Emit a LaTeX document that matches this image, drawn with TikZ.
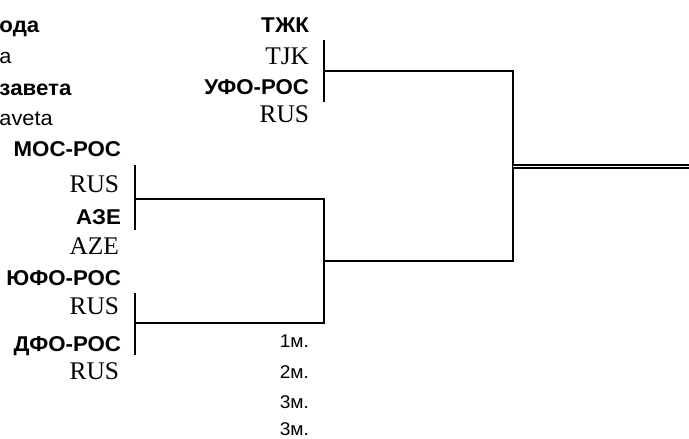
\documentclass[tikz,border=0pt]{standalone}
\usepackage{fontspec}
\setmainfont{Liberation Serif}
\newfontfamily\arialfont[FakeStretch=1.04]{Liberation Sans}
\usepackage{tikz}
\tikzset{%
  % Specifications for style of nodes:
       base/.style = {inner sep=0pt, outer sep=0pt},
       team/.style = {base, anchor=base east,
                      font=\arialfont\bfseries\fontsize{21.5}{25}\selectfont},
    country/.style = {base, anchor=base east,
                      font=\rmfamily\fontsize{25.5}{30}\selectfont},
      place/.style = {base, anchor=base east,
                      font=\arialfont\fontsize{18.5}{22}\selectfont},
    cutname/.style = {base, anchor=base west,
                      font=\arialfont\fontsize{21}{25}\selectfont},
    bracket/.style = {line width=2.2bp},
}

\begin{document}
\begin{tikzpicture}[x=1bp, y=-1bp]
                    \useasboundingbox (0,0) rectangle (689,439);

                    % names cut off at the left edge
                    \node (nameA)   [cutname, font=\arialfont\bfseries\fontsize{21.5}{25}\selectfont] at (-0.5,33)  {ода};
                    \node (latA)    [cutname]  at (-0.5,64)  {a};
                    \node (nameB)   [cutname, font=\arialfont\bfseries\fontsize{21.5}{25}\selectfont] at (-0.5,96)  {завета};
                    \node (latB)    [cutname]  at (-0.5,126) {aveta};

                    % first round
                    \node (mos)     [team]     at (121,157) {МОС-РОС};
                    \node (mosC)    [country]  at (119,193) {RUS};
                    \node (aze)     [team]     at (121,225) {АЗЕ};
                    \node (azeC)    [country]  at (119,255) {AZE};
                    \node (yufo)    [team]     at (121,286) {ЮФО-РОС};
                    \node (yufoC)   [country]  at (119,315) {RUS};
                    \node (dfo)     [team]     at (121,351) {ДФО-РОС};
                    \node (dfoC)    [country]  at (119,379) {RUS};

                    % second round
                    \node (tjk)     [team]     at (309,33)  {ТЖК};
                    \node (tjkC)    [country]  at (309,65)  {TJK};
                    \node (ufo)     [team]     at (309,95)  {УФО-РОС};
                    \node (ufoC)    [country]  at (309,123) {RUS};

                    % places
                    \node (first)   [place]    at (309,347) {1м.};
                    \node (second)  [place]    at (309,378) {2м.};
                    \node (thirdA)  [place]    at (309,408) {3м.};
                    \node (thirdB)  [place]    at (309,435) {3м.};

                    % bracket joints
                    \coordinate (m1a) at (135,165);
                    \coordinate (m1b) at (135,230);
                    \coordinate (m1)  at (135,199);
                    \coordinate (m2a) at (135,293);
                    \coordinate (m2b) at (135,355);
                    \coordinate (m2)  at (135,323);
                    \coordinate (s1a) at (324,40);
                    \coordinate (s1b) at (324,102);
                    \coordinate (s1)  at (324,71);
                    \coordinate (s2)  at (324,261);
                    \coordinate (fin) at (513,166.5);
                    \coordinate (win) at (689,166.5);

                    \draw[bracket] (m1a) -- (m1b);
                    \draw[bracket] (m2a) -- (m2b);
                    \draw[bracket] (s1a) -- (s1b);
                    \draw[bracket] (m1) -| (s2);
                    \draw[bracket] (m2) -| (s2);
                    \draw[bracket] (s1) -| (fin);
                    \draw[bracket] (s2) -| (fin);
                    \draw[double, line width=1.8bp, double distance=1.5bp] (fin) -- (win);
                \end{tikzpicture}
\end{document}
